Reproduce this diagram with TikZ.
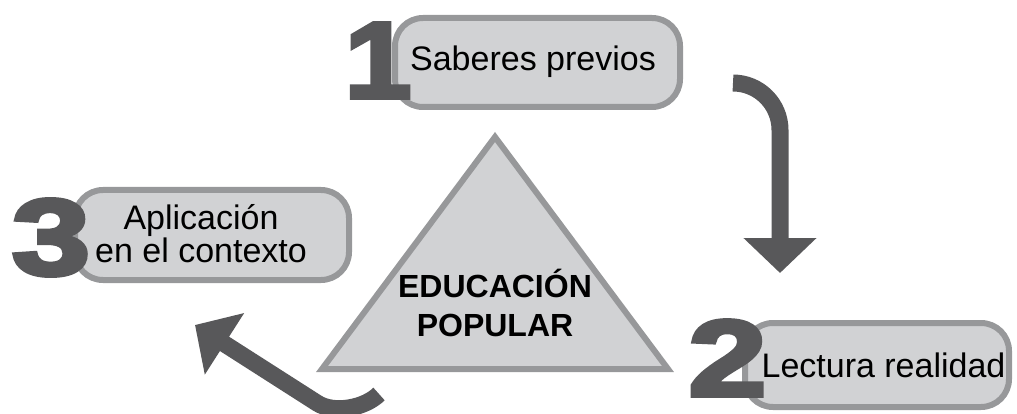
\documentclass[tikz,border=0pt]{standalone}
\usepackage{fontspec}
\setmainfont{Liberation Sans}
\newfontfamily\bignum[FakeBold=4]{Liberation Sans Bold}
\usetikzlibrary{arrows.meta}
\definecolor{boxfill}{HTML}{D1D2D4}
\definecolor{boxline}{HTML}{97989A}
\definecolor{numgray}{HTML}{58585A}

\begin{document}
\begin{tikzpicture}[x=1pt,y=-1pt,
        stepbox/.style={draw=boxline,fill=boxfill,line width=6pt,rounded corners=28pt,inner sep=0pt},
        boxtext/.style={font=\fontsize{34}{28}\selectfont,align=center,inner sep=0pt},
        num/.style={font=\bignum\fontsize{108}{108}\selectfont,text=numgray,inner sep=0pt,xscale=1.3},
        flow/.style={draw=numgray,line width=17pt,-{Triangle[length=35pt,width=71pt]}}]
            \useasboundingbox (0,0) rectangle (1017,414);
            % boxes
            \node (box1) at (537.5,62.5) [stepbox,minimum width=285pt,minimum height=89pt] {};
            \node (box3) at (212,235) [stepbox,minimum width=274pt,minimum height=90pt] {};
            \node (box2) at (877,365) [stepbox,minimum width=264pt,minimum height=84pt] {};
            \node (saberes) at (533,62) [boxtext] {Saberes previos};
            \node (aplic) at (201,233.5) [boxtext] {Aplicación\\en el contexto};
            \node (lectura) at (883.5,365) [boxtext] {Lectura realidad};
            % numbers
            \node (uno) at (378,60.5) [num,xscale=0.85] {1};
            \node (tres) at (51,237.5) [num] {3};
            \node (dos) at (727.5,358) [num] {2};
            % triangle
            \coordinate (apex) at (495,137);
            \coordinate (bl) at (322,369);
            \coordinate (br) at (668,369);
            \draw[draw=boxline,fill=boxfill,line width=6pt] (apex) -- (br) -- (bl) -- cycle;
            \node (educ) at (495,303) [font=\fontsize{32}{39}\selectfont\bfseries,align=center,inner sep=0pt] {EDUCACIÓN\\POPULAR};
            % arrows
            \coordinate (tail1) at (733,83);
            \coordinate (tip1) at (780,273);
            \draw[flow,rounded corners=47pt] (tail1) -| (tip1);
            \coordinate (tail3) at (379,394);
            \coordinate (bend3) at (317,403);
            \coordinate (tip3) at (195,325);
            \draw[flow] (tail3) .. controls (365,408) and (334,414) .. (bend3) -- (tip3);
        \end{tikzpicture}
\end{document}
